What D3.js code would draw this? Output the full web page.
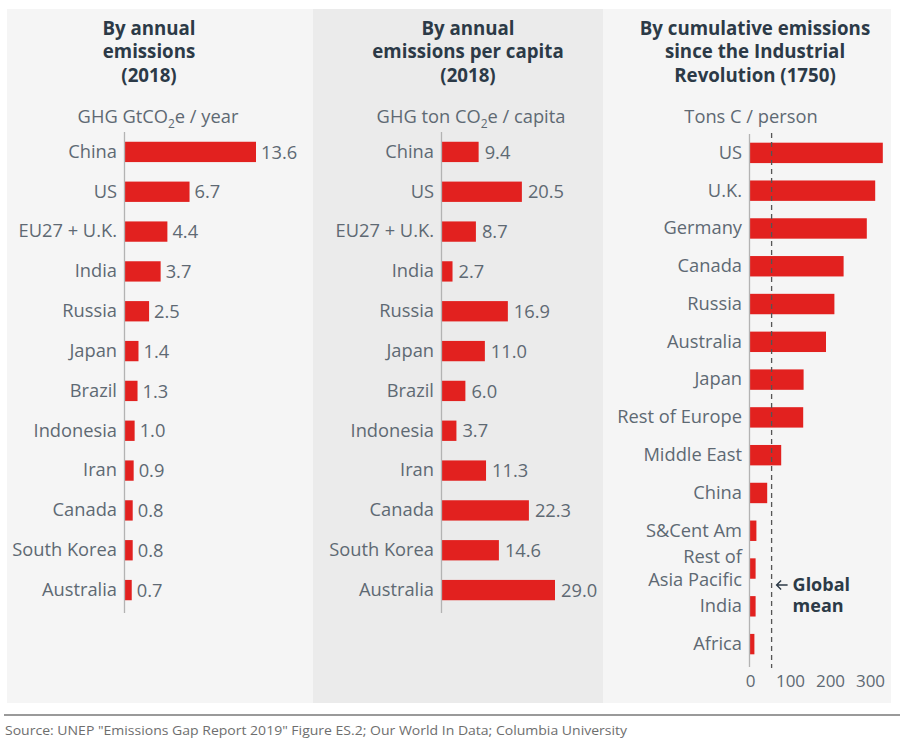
<!DOCTYPE html>
<html><head><meta charset="utf-8">
<script src="https://cdn.jsdelivr.net/npm/d3@7"></script>
<style>
html,body{margin:0;padding:0;background:#fff;}
svg{display:block;font-family:"Open Sans",sans-serif;}
</style></head>
<body>
<svg id="chart" width="904" height="742"></svg>
<script>
// ---- data ----
const annualCountries = ["China","US","EU27 + U.K.","India","Russia","Japan","Brazil","Indonesia","Iran","Canada","South Korea","Australia"];
const annualValues = [13.6,6.7,4.4,3.7,2.5,1.4,1.3,1.0,0.9,0.8,0.8,0.7];
const perCapitaValues = [9.4,20.5,8.7,2.7,16.9,11.0,6.0,3.7,11.3,22.3,14.6,29.0];
const cumulativeRegions = ["US","U.K.","Germany","Canada","Russia","Australia","Japan","Rest of Europe","Middle East","China","S&Cent Am","Rest of\nAsia Pacific","India","Africa"];
const cumulativeValues = [332,313,292,234,211,190,134,133,78,43,16,14,14,11];
const cumulativeTicks = [0,100,200,300];
const globalMean = 54;
const titles = [["By annual","emissions","(2018)"],["By annual","emissions per capita","(2018)"],["By cumulative emissions","since the Industrial","Revolution (1750)"]];
const sourceText = 'Source: UNEP "Emissions Gap Report 2019" Figure ES.2; Our World In Data; Columbia University';

// ---- style ----
const RED = "#e2211f", LABEL = "#5e6973", TITLE = "#2c3a47", AXIS = "#b3b3b3";
const FS = 18.3;
const svg = d3.select("#chart");

// panel backgrounds
svg.append("rect").attr("x",7).attr("y",9).attr("width",306).attr("height",694).attr("fill","#f5f5f5");
svg.append("rect").attr("x",313).attr("y",9).attr("width",290).attr("height",694).attr("fill","#ebebeb");
svg.append("rect").attr("x",603).attr("y",9).attr("width",288).attr("height",694).attr("fill","#f5f5f5");

// titles
const titleCx = [149,468,755];
titles.forEach((lines,i)=>{
  const t = svg.append("text").attr("text-anchor","middle").attr("fill",TITLE)
    .attr("font-size",18.7).attr("font-weight",700);
  lines.forEach((l,j)=>t.append("tspan").attr("x",titleCx[i]).attr("y",35+j*23.3).text(l));
});

// subtitles
function subtitle(cx, parts){
  const t = svg.append("text").attr("x",cx).attr("y",123).attr("text-anchor","middle")
    .attr("fill",LABEL).attr("font-size",FS).attr("font-weight",400);
  parts.forEach(p=>{
    const ts = t.append("tspan").text(p.t);
    if(p.sub) ts.attr("font-size",12).attr("dy",5);
    if(p.up) ts.attr("dy",-5);
  });
}
subtitle(158,[{t:"GHG GtCO"},{t:"2",sub:true},{t:"e / year",up:true}]);
subtitle(471,[{t:"GHG ton CO"},{t:"2",sub:true},{t:"e / capita",up:true}]);
subtitle(751,[{t:"Tons C / person"}]);

// generic bar panel
function barPanel(opts){
  const g = svg.append("g");
  const y = d3.scaleBand().domain(opts.cats).range(opts.yRange)
    .paddingInner(opts.pad).paddingOuter(opts.pad/2);
  const x = d3.scaleLinear().domain(opts.xDomain).range(opts.xRange);
  g.selectAll("rect.bar").data(opts.vals).join("rect").attr("class","bar")
    .attr("x",x(0)).attr("y",(d,i)=>y(opts.cats[i]))
    .attr("width",d=>x(d)-x(0)).attr("height",y.bandwidth()).attr("fill",RED);
  const ax = g.append("g").attr("transform",`translate(${x(0)-0.5},0)`)
    .call(d3.axisLeft(y).tickSize(0).tickPadding(7.5));
  ax.select(".domain").remove();
  g.append("line").attr("x1",x(0)-0.5).attr("x2",x(0)-0.5)
    .attr("y1",opts.yRange[0]).attr("y2",opts.axisEnd)
    .attr("stroke",AXIS).attr("stroke-width",1.3);
  ax.selectAll(".tick text").attr("fill",LABEL).attr("font-size",FS).attr("font-weight",400)
    .attr("font-family","'Open Sans',sans-serif")
    .each(function(d){
      const parts = d.split("\n");
      if(parts.length>1){
        const el = d3.select(this); el.text(null).attr("dy",null);
        const xx = el.attr("x");
        parts.forEach((p,k)=>el.append("tspan").attr("x",xx)
          .attr("dy", k===0 ? (0.36 - (parts.length-1)*0.66)+"em" : "1.26em").text(p));
      }
    });
  if(opts.showValues){
    g.selectAll("text.val").data(opts.vals).join("text").attr("class","val")
      .attr("x",d=>x(d)+opts.valGap).attr("y",(d,i)=>y(opts.cats[i])+y.bandwidth()/2)
      .attr("dy","0.36em").attr("fill",LABEL).attr("font-size",FS).attr("font-weight",400)
      .text(d=>d.toFixed(1));
  }
  return {g,x,y};
}

barPanel({cats:annualCountries, vals:annualValues, xDomain:[0,13.6], xRange:[125,256],
  yRange:[132,610], pad:0.49, axisEnd:613, showValues:true, valGap:5});
barPanel({cats:annualCountries, vals:perCapitaValues, xDomain:[0,29], xRange:[442,555],
  yRange:[132,610], pad:0.49, axisEnd:613, showValues:true, valGap:6});
const p3 = barPanel({cats:cumulativeRegions, vals:cumulativeValues, xDomain:[0,300], xRange:[750,870],
  yRange:[134,663], pad:0.46, axisEnd:667, showValues:false});

// bottom ticks of panel 3
const xa = svg.append("g").attr("transform","translate(0,671)")
  .call(d3.axisBottom(p3.x).tickValues(cumulativeTicks).tickSize(0).tickPadding(4));
xa.select(".domain").remove();
xa.selectAll(".tick text").attr("fill",LABEL).attr("font-size",17).attr("font-weight",400)
  .attr("font-family","'Open Sans',sans-serif");

// global mean line
const gx = p3.x(globalMean);
svg.append("line").attr("x1",gx).attr("x2",gx).attr("y1",133).attr("y2",668)
  .attr("stroke","#555").attr("stroke-width",1.3).attr("stroke-dasharray","5,4");
svg.append("path").attr("d",`M${gx+16},585 H${gx+5} M${gx+9.5},580.5 L${gx+5},585 L${gx+9.5},589.5`)
  .attr("fill","none").attr("stroke",TITLE).attr("stroke-width",1.4);
svg.append("text").attr("x",gx+21).attr("y",591).attr("fill",TITLE)
  .attr("font-size",18).attr("font-weight",700).text("Global");
svg.append("text").attr("x",gx+21).attr("y",612).attr("fill",TITLE)
  .attr("font-size",18).attr("font-weight",700).text("mean");

// footer
svg.append("line").attr("x1",4).attr("x2",900).attr("y1",715).attr("y2",715)
  .attr("stroke","#9a9a9a").attr("stroke-width",2);
svg.append("text").attr("x",5).attr("y",735).attr("fill","#6e6e6e").attr("font-size",13.5)
  .attr("textLength",622).attr("lengthAdjust","spacingAndGlyphs").text(sourceText);
</script>
</body></html>
